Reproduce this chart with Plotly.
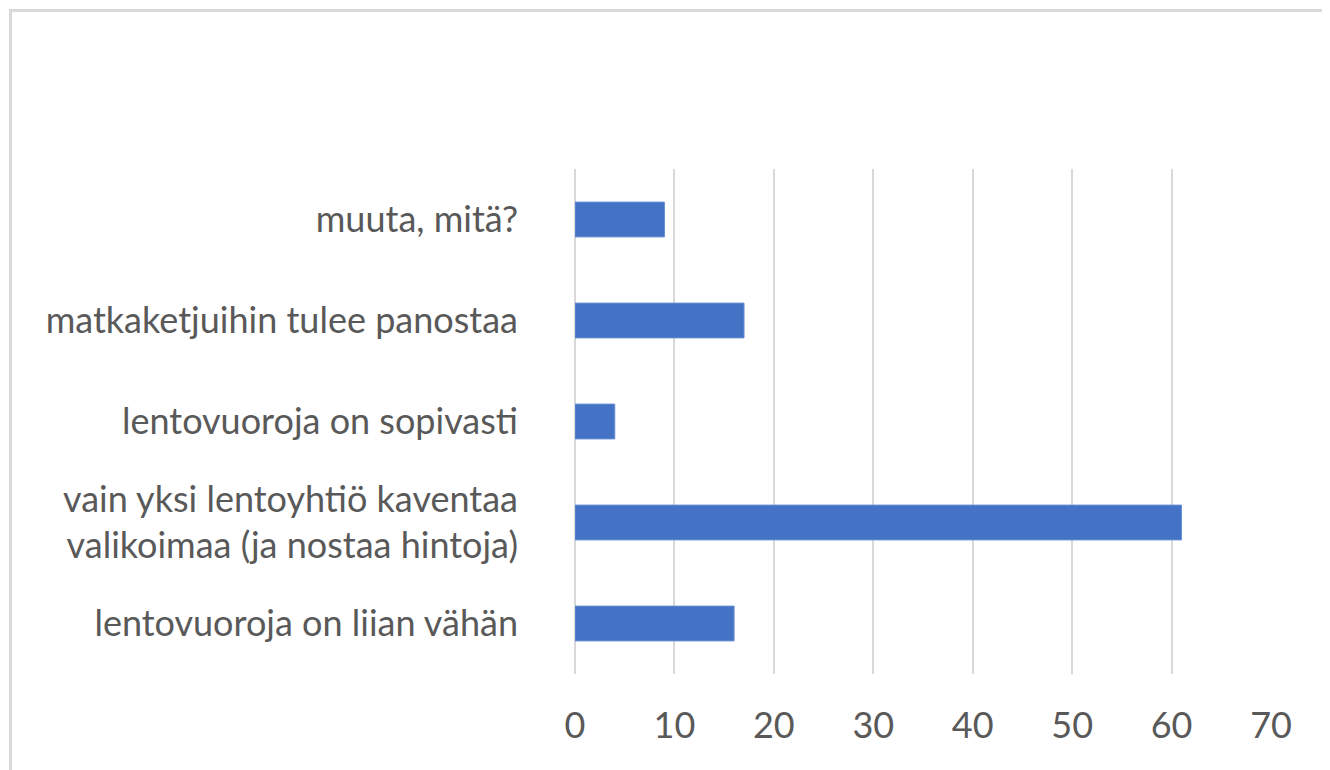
import plotly.graph_objects as go

categories = [
    "lentovuoroja on liian vähän",
    "vain yksi lentoyhtiö kaventaa<br>valikoimaa (ja nostaa hintoja)",
    "lentovuoroja on sopivasti",
    "matkaketjuihin tulee panostaa",
    "muuta, mitä?",
]
values = [16, 61, 4, 17, 9]
x_ticks = [0, 10, 20, 30, 40, 50, 60, 70]

# page body has an 8px margin; figure coordinates = screen - 8
OFF = 8
W, H = 1330 - OFF, 770 - OFF
L, R, T, B = 575 - OFF, 1271 - OFF, 169 - OFF, 674 - OFF

def px_x(p):
    return (p - OFF - L) / (R - L)

def px_y(p):
    return (B - (p - OFF)) / (B - T)

fig = go.Figure(
    go.Bar(
        x=values,
        y=categories,
        orientation="h",
        marker=dict(color="#4472C4", line=dict(color="#6a90d6", width=1)),
        width=0.345,
        hoverinfo="x+y",
    )
)

fig.update_layout(
    width=W,
    height=H,
    margin=dict(l=L, r=W - R, t=T, b=H - B),
    paper_bgcolor="white",
    plot_bgcolor="white",
    showlegend=False,
    font=dict(family="Lato, Calibri, 'Open Sans', sans-serif", size=36, color="#595959"),
    xaxis=dict(
        range=[0, 70],
        tickvals=x_ticks,
        ticktext=[str(v) for v in x_ticks],
        showgrid=True,
        gridcolor="#d9d9d9",
        gridwidth=2,
        zeroline=True,
        zerolinecolor="#d9d9d9",
        zerolinewidth=2,
        showline=False,
        ticks="",
        ticklabelstandoff=27,
        tickfont=dict(size=36, color="#595959"),
        fixedrange=True,
    ),
    yaxis=dict(
        showgrid=False,
        zeroline=False,
        showline=False,
        ticks="",
        ticklabelstandoff=56,
        tickfont=dict(size=36, color="#595959"),
        fixedrange=True,
    ),
    shapes=[
        dict(
            type="rect",
            xref="paper",
            yref="paper",
            x0=px_x(10.5),
            x1=px_x(1345),
            y0=px_y(785),
            y1=px_y(10.5),
            line=dict(color="#d9d9d9", width=3),
            fillcolor="rgba(0,0,0,0)",
            layer="below",
        )
    ],
)

fig.write_html("out.html")
